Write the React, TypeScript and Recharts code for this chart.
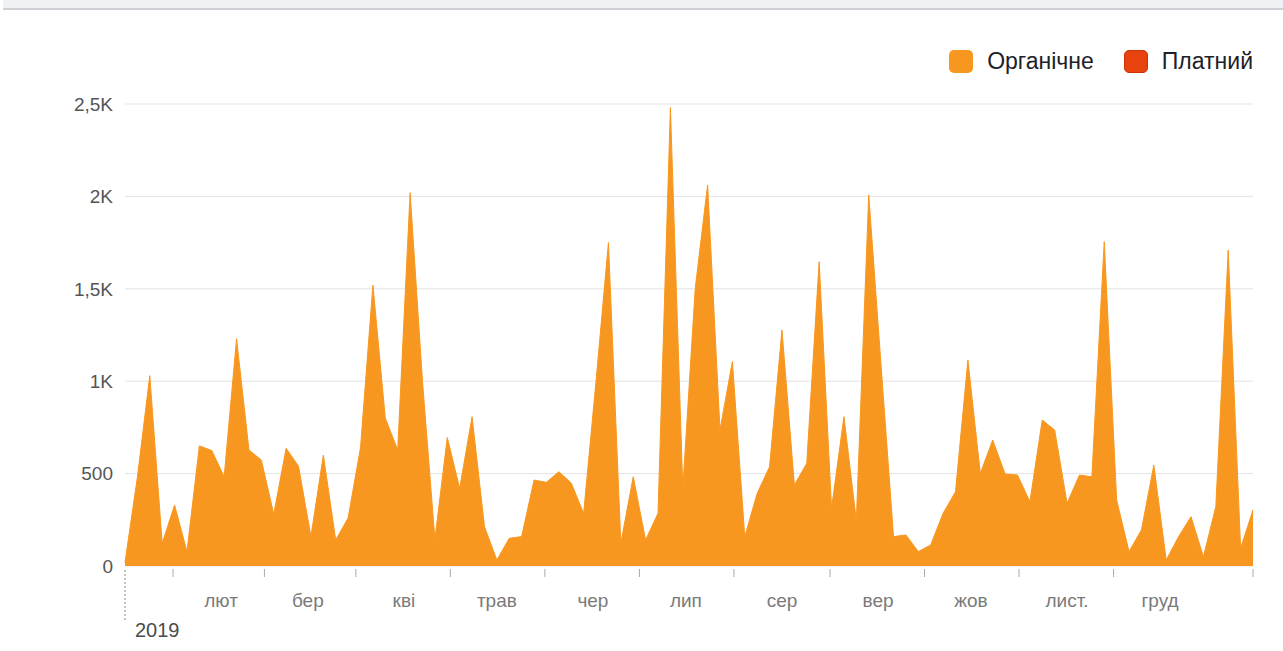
import React from "react"
import { Area, AreaChart, CartesianGrid, XAxis, YAxis } from "recharts"

const seriesNames = ["Органічне", "Платний"]
const seriesColors = ["#F8971F", "#E8420E"]

const yTicks = [0, 500, 1000, 1500, 2000, 2500]
const yTickLabels = ["0", "500", "1K", "1,5K", "2K", "2,5K"]

const yearLabel = "2019"
const monthLabels = ["лют", "бер", "кві", "трав", "чер", "лип", "сер", "вер", "жов", "лист.", "груд"]
const monthStartDays = [31, 59, 90, 120, 151, 181, 212, 243, 273, 304, 334]
const tickMarkDays = [15.5, 45, 74.5, 105, 135.5, 166, 196.5, 227.5, 258, 288.5, 319, 364]

// one point every 4 days, starting Jan 1
const stepDays = 4
const organic = [
  20, 480, 1030, 123, 330, 78, 650, 625, 483, 1230,
  628, 573, 280, 637, 540, 159, 600, 141, 260, 640,
  1520, 800, 628, 2020, 1000, 145, 695, 420, 808, 213,
  32, 150, 159, 465, 453, 510, 449, 285, 1000, 1750,
  123, 483, 141, 285, 2480, 420, 1500, 2062, 736, 1106,
  159, 393, 537, 1277, 438, 556, 1647, 312, 808, 245,
  2008, 1080, 159, 168, 78, 114, 285, 402, 1115, 501,
  682, 498, 492, 348, 790, 736, 339, 492, 483, 1755,
  357, 78, 195, 546, 32, 159, 267, 50, 321, 1710,
  96, 303,
]

const data = organic.map((v, i) => ({ day: i * stepDays, organic: v }))

const xTicks = [0, ...monthStartDays, ...tickMarkDays].sort((a, b) => a - b)

const font = "'Liberation Sans', Arial, sans-serif"

function MonthTick(props: any) {
  const { x, y, payload } = props
  const v = payload.value
  if (v === 0) {
    return (
      <g>
        <line x1={x} x2={x} y1={y + 4} y2={y + 56} stroke="#888" strokeDasharray="2 2" />
        <text x={x + 10} y={y + 71} fill="#4b4b4b" fontSize={20} fontFamily={font}>
          {yearLabel}
        </text>
      </g>
    )
  }
  const idx = monthStartDays.indexOf(v)
  if (idx >= 0) {
    return (
      <text x={x} y={y + 41} textAnchor="middle" fill="#7a7a7a" fontSize={19} fontFamily={font}>
        {monthLabels[idx]}
      </text>
    )
  }
  return <line x1={x} x2={x} y1={y + 3} y2={y + 11} stroke="#aaa" />
}

export default function App() {
  return (
    <div style={{ position: "absolute", left: 0, top: 0, width: 1283, height: 651, background: "#fff", overflow: "hidden" }}>
      <div style={{ position: "absolute", left: 3, right: 0, top: 0, height: 8, background: "#f0f1f5", borderBottom: "2px solid #cfd0d5" }} />
      <div
        style={{
          position: "absolute",
          right: 30,
          top: 48,
          display: "flex",
          alignItems: "center",
          fontFamily: font,
          fontSize: 23,
          color: "#1d2129",
        }}
      >
        {seriesNames.map((name, i) => (
          <div key={name} style={{ display: "flex", alignItems: "center", marginLeft: i === 0 ? 0 : 30 }}>
            <div
              style={{
                width: 24,
                height: 23,
                borderRadius: 5,
                background: seriesColors[i],
                boxSizing: "border-box",
                border: i === 1 ? "1px solid #c83406" : "none",
                marginRight: 14,
              }}
            />
            <span>{name}</span>
          </div>
        ))}
      </div>
      <AreaChart width={1283} height={651} data={data} margin={{ top: 104, right: 30, bottom: 25, left: 65 }}>
        <CartesianGrid vertical={false} stroke="#e3e3e3" />
        <XAxis
          dataKey="day"
          type="number"
          domain={[0, 364]}
          ticks={xTicks}
          interval={0}
          height={60}
          axisLine={false}
          tickLine={false}
          tickSize={0}
          tickMargin={0}
          tick={<MonthTick />}
        />
        <YAxis
          domain={[0, 2500]}
          ticks={yTicks}
          width={60}
          axisLine={false}
          tickLine={false}
          tickSize={0}
          tickMargin={12}
          tickFormatter={(v: number) => yTickLabels[yTicks.indexOf(v)]}
          tick={{ fill: "#555", fontSize: 19, fontFamily: font }}
        />
        <Area
          type="linear"
          dataKey="organic"
          name={seriesNames[0]}
          stroke={seriesColors[0]}
          strokeWidth={1}
          fill={seriesColors[0]}
          fillOpacity={1}
          dot={false}
          activeDot={false}
          isAnimationActive={false}
        />
      </AreaChart>
    </div>
  )
}
